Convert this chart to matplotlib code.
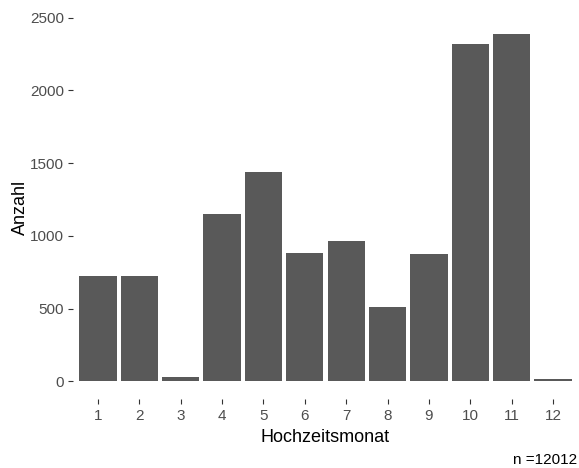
import matplotlib
matplotlib.use("Agg")
import matplotlib.pyplot as plt

# Hochzeiten pro Monat
monate = [str(m) for m in range(1, 13)]
anzahl = [724, 724, 33, 1148, 1439, 885, 963, 514, 876, 2316, 2389, 19]
n_total = 12012

plt.rcParams['font.family'] = ['Liberation Sans', 'DejaVu Sans']

fig = plt.figure(figsize=(5.79, 4.68), dpi=100)
ax = fig.add_axes([0.1264, 0.1479, 0.8716, 0.8171])

x = list(range(1, 13))
ax.bar(x, anzahl, width=0.9, color='#595959', edgecolor='none')

ax.set_xlim(0.4, 12.6)
ax.set_ylim(-0.05 * max(anzahl), max(anzahl) * 1.05)
ax.set_xticks(x)
ax.set_xticklabels(monate)
ax.set_yticks([0, 500, 1000, 1500, 2000, 2500])

for side in ['top', 'right', 'bottom', 'left']:
    ax.spines[side].set_visible(False)

ax.tick_params(axis='both', length=3.5, width=0.8, color='#333333',
               labelcolor='#4D4D4D', labelsize=11, pad=3)
ax.tick_params(axis='x', pad=4)

ax.set_xlabel('Hochzeitsmonat', fontsize=13, color='black', labelpad=4)
ax.set_ylabel('Anzahl', fontsize=13, color='black', labelpad=1)

fig.text(0.997, 0.002, 'n =' + str(n_total), ha='right', va='bottom',
         fontsize=11, color='black')

fig.savefig('out.png', dpi=100)
